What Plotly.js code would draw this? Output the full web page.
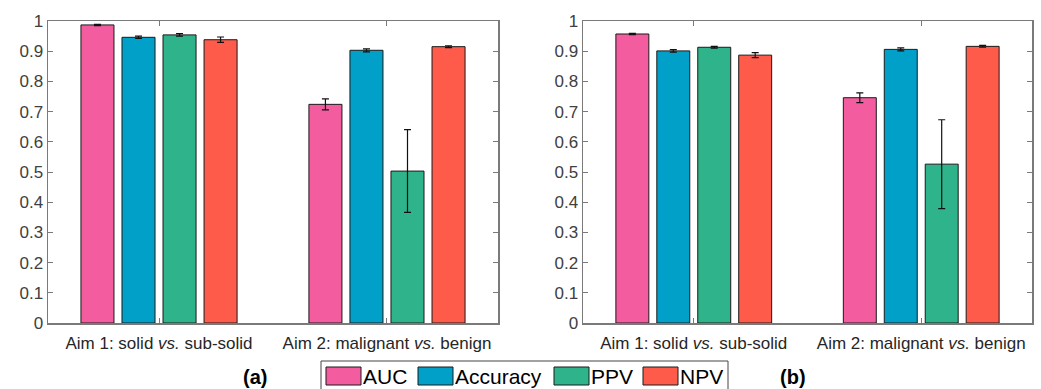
<!DOCTYPE html>
<html>
<head>
<meta charset="utf-8">
<script src="https://cdn.plot.ly/plotly-3.0.1.min.js"></script>
<style>html,body{margin:0;padding:0;background:#fff;}#chart{width:1041px;height:389px;}</style>
</head>
<body>
<div id="chart"></div>
<script>
// ---- data ----
const categories = ['Aim 1: solid <i>vs.</i> sub-solid', 'Aim 2: malignant <i>vs.</i> benign'];
const seriesNames = ['AUC', 'Accuracy', 'PPV', 'NPV'];
const seriesColors = ['#F45CA0', '#00A0C9', '#2EB38A', '#FF5B4B'];

// panel (a)
const aAUC = [0.987, 0.724];
const aAccuracy = [0.946, 0.903];
const aPPV = [0.954, 0.503];
const aNPV = [0.938, 0.915];
const aAUCErr = [0.002, 0.018];
const aAccuracyErr = [0.004, 0.005];
const aPPVErr = [0.004, 0.137];
const aNPVErr = [0.009, 0.003];

// panel (b)
const bAUC = [0.957, 0.746];
const bAccuracy = [0.901, 0.906];
const bPPV = [0.913, 0.526];
const bNPV = [0.887, 0.916];
const bAUCErr = [0.002, 0.016];
const bAccuracyErr = [0.004, 0.005];
const bPPVErr = [0.003, 0.147];
const bNPVErr = [0.008, 0.003];

const yTickVals = [0, 0.1, 0.2, 0.3, 0.4, 0.5, 0.6, 0.7, 0.8, 0.9, 1];
const yTickText = ['0', '0.1', '0.2', '0.3', '0.4', '0.5', '0.6', '0.7', '0.8', '0.9', '1'];
const panelLabels = ['(a)', '(b)'];

// ---- build ----
const W = 1041, H = 389;
const px = x => x / W;
const py = y => (H - y) / H;
const FONT = 'Liberation Sans, Arial, Helvetica, sans-serif';

const panelA = [aAUC, aAccuracy, aPPV, aNPV];
const panelAErr = [aAUCErr, aAccuracyErr, aPPVErr, aNPVErr];
const panelB = [bAUC, bAccuracy, bPPV, bNPV];
const panelBErr = [bAUCErr, bAccuracyErr, bPPVErr, bNPVErr];

const traces = [];
[[panelA, panelAErr, 'x', 'y'], [panelB, panelBErr, 'x2', 'y2']].forEach(([vals, errs, xa, ya]) => {
  vals.forEach((v, i) => {
    traces.push({
      type: 'bar', x: categories, y: v, name: seriesNames[i], xaxis: xa, yaxis: ya,
      showlegend: false,
      marker: {color: seriesColors[i], line: {color: '#1a1a1a', width: 1}},
      error_y: {type: 'data', array: errs[i], visible: true, color: '#111', thickness: 1.2, width: 3.5},
      hoverinfo: 'skip'
    });
  });
});

const axisLine = '#7a7a7a';
function xAxis(dom, anchor) {
  return {
    domain: dom, anchor: anchor, type: 'category', range: [-0.487, 1.487],
    showline: true, linecolor: axisLine, linewidth: 1.5, mirror: 'ticks',
    ticks: 'inside', ticklen: 5, tickcolor: axisLine, tickwidth: 1,
    tickfont: {family: FONT, size: 17, color: '#262626'},
    showgrid: false, zeroline: false, fixedrange: true, ticklabelstandoff: 4
  };
}
function yAxis(dom, anchor) {
  return {
    domain: dom, anchor: anchor, range: [0, 1],
    tickvals: yTickVals, ticktext: yTickText,
    showline: true, linecolor: axisLine, linewidth: 1.5, mirror: 'ticks',
    ticks: 'inside', ticklen: 5, tickcolor: axisLine, tickwidth: 1,
    tickfont: {family: FONT, size: 17, color: '#404040'},
    showgrid: false, zeroline: false, fixedrange: true
  };
}

const shapes = [];
const annotations = [];
// panel labels
[[255, 377], [793, 377]].forEach((p, i) => {
  annotations.push({xref: 'paper', yref: 'paper', x: px(p[0]), y: py(p[1]), text: '<b>' + panelLabels[i] + '</b>',
    showarrow: false, xanchor: 'center', yanchor: 'middle', font: {family: FONT, size: 20, color: '#000'}});
});
// legend box
shapes.push({type: 'rect', xref: 'paper', yref: 'paper', x0: px(321), x1: px(728), y0: py(396), y1: py(361),
  line: {color: '#444', width: 1}, fillcolor: 'rgba(0,0,0,0)'});
const swX = [326, 418, 554, 643];
seriesNames.forEach((n, i) => {
  shapes.push({type: 'rect', xref: 'paper', yref: 'paper', x0: px(swX[i]), x1: px(swX[i] + 35), y0: py(385), y1: py(367),
    line: {color: '#1a1a1a', width: 1}, fillcolor: seriesColors[i]});
  annotations.push({xref: 'paper', yref: 'paper', x: px(swX[i] + 35), y: py(376), text: n, showarrow: false,
    xanchor: 'left', yanchor: 'middle', font: {family: FONT, size: 21, color: '#000'}});
});

const yDom = [py(323), py(21)];
const layout = {
  width: W, height: H, margin: {l: 0, r: 0, t: 0, b: 0},
  paper_bgcolor: '#fff', plot_bgcolor: '#fff',
  barmode: 'group', bargap: 0.28, bargroupgap: 0.195,
  showlegend: false,
  xaxis: xAxis([px(48), px(498)], 'y'),
  yaxis: yAxis(yDom, 'x'),
  xaxis2: xAxis([px(583), px(1032)], 'y2'),
  yaxis2: yAxis(yDom, 'x2'),
  shapes: shapes, annotations: annotations,
  font: {family: FONT}
};

Plotly.newPlot('chart', traces, layout, {displayModeBar: false, staticPlot: true});
</script>
</body>
</html>
